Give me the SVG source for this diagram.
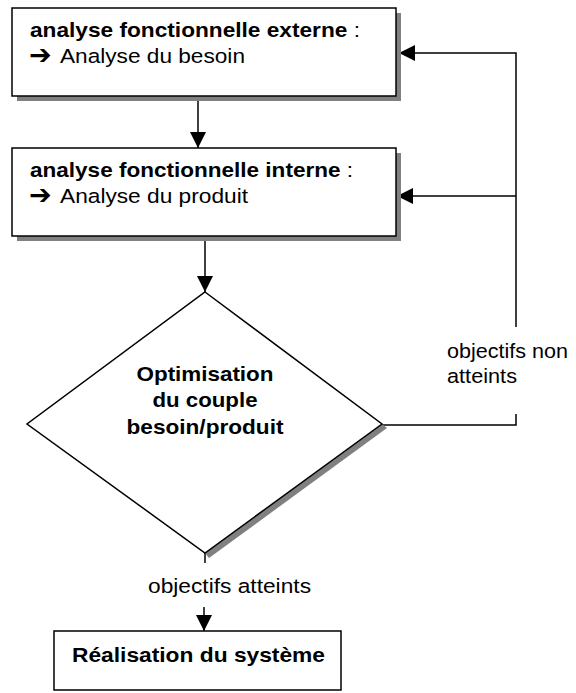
<svg xmlns="http://www.w3.org/2000/svg" width="576" height="693" viewBox="0 0 576 693">
<defs>
<style>
.box{fill:#fff;stroke:#000;stroke-width:1.5}
.shadow{fill:#808080;stroke:none}
.t{font-family:"Liberation Sans",Arial,sans-serif;font-size:20.5px;fill:#000}
.b{font-weight:bold}
.arw{font-family:"DejaVu Sans",sans-serif;font-weight:bold;font-size:27px}
.line{fill:none;stroke:#000;stroke-width:1.5}
</style>
<marker id="ah" viewBox="0 0 10 10" refX="10" refY="5" markerWidth="16" markerHeight="16" markerUnits="userSpaceOnUse" orient="auto">
<path d="M0,0 L10,5 L0,10 Z" fill="#000"/>
</marker>
</defs>
<rect width="576" height="693" fill="#fff"/>
<g id="connectors">
<line class="line" x1="198" y1="97" x2="198" y2="148" marker-end="url(#ah)"/>
<line class="line" x1="205" y1="237" x2="205" y2="292" marker-end="url(#ah)"/>
<polyline class="line" points="382,425 516,425 516,414"/>
<polyline class="line" points="516,327 516,53 399,53" marker-end="url(#ah)"/>
<line class="line" x1="516" y1="196" x2="397" y2="196" marker-end="url(#ah)"/>
<line class="line" x1="205" y1="553" x2="205" y2="563"/>
<line class="line" x1="204" y1="607" x2="204" y2="631" marker-end="url(#ah)"/>
<text class="t" x="447" y="358" textLength="121" lengthAdjust="spacingAndGlyphs">objectifs non</text>
<text class="t" x="447" y="383" textLength="70" lengthAdjust="spacingAndGlyphs">atteints</text>
<text class="t" x="148" y="593" textLength="163" lengthAdjust="spacingAndGlyphs">objectifs atteints</text>
</g>
<g id="node-externe">
<rect class="shadow" x="17" y="13" width="384" height="88"/>
<rect class="box" x="12" y="8" width="384" height="88"/>
<text class="t" x="30" y="37" textLength="330" lengthAdjust="spacingAndGlyphs"><tspan class="b">analyse fonctionnelle externe</tspan> :</text>
<text class="t" x="29" y="64"><tspan class="arw">➔</tspan></text>
<text class="t" x="60" y="63" textLength="185" lengthAdjust="spacingAndGlyphs">Analyse du besoin</text>
</g>
<g id="node-interne">
<rect class="shadow" x="17" y="153" width="384" height="88"/>
<rect class="box" x="12" y="148" width="384" height="88"/>
<text class="t" x="30" y="177" textLength="323" lengthAdjust="spacingAndGlyphs"><tspan class="b">analyse fonctionnelle interne</tspan> :</text>
<text class="t" x="29" y="204"><tspan class="arw">➔</tspan></text>
<text class="t" x="60" y="203" textLength="188" lengthAdjust="spacingAndGlyphs">Analyse du produit</text>
</g>
<g id="node-optimisation">
<polygon class="shadow" points="382,424 387,428 209,558 205,553"/>
<polygon class="box" points="205,292 382,424 205,553 27,424"/>
<text class="t b" x="205" y="381" text-anchor="middle" textLength="137" lengthAdjust="spacingAndGlyphs">Optimisation</text>
<text class="t b" x="205" y="407" text-anchor="middle" textLength="105" lengthAdjust="spacingAndGlyphs">du couple</text>
<text class="t b" x="205" y="434" text-anchor="middle" textLength="157" lengthAdjust="spacingAndGlyphs">besoin/produit</text>
</g>
<g id="node-realisation">
<rect class="box" x="54" y="631" width="287" height="59"/>
<text class="t b" x="72" y="662" textLength="253" lengthAdjust="spacingAndGlyphs">Réalisation du système</text>
</g>
</svg>
